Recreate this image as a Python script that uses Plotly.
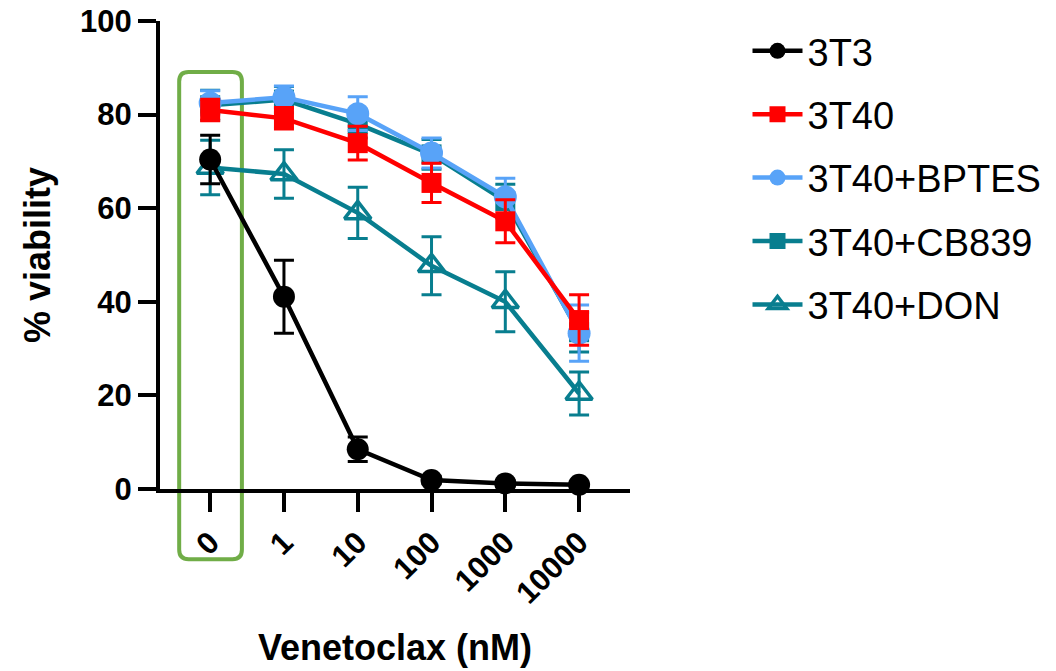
import plotly.graph_objects as go

# ---- data ----
x_pos = [0, 1, 2, 3, 4, 5]
x_labels = ["0", "1", "10", "100", "1000", "10000"]

t3_mean = [70.4, 41.1, 8.5, 1.9, 1.2, 0.9]
t3_sd = [5.2, 7.8, 2.6, 0.8, 0.6, 0.5]

t40_mean = [81.0, 79.2, 73.9, 65.4, 57.2, 36.1]
t40_sd = [2.3, 2.3, 3.6, 4.2, 4.6, 5.4]

bptes_mean = [82.5, 83.7, 80.2, 71.8, 62.4, 33.3]
bptes_sd = [2.6, 2.4, 3.6, 3.2, 4.0, 6.0]

cb839_mean = [82.0, 83.2, 78.0, 71.5, 61.5, 33.5]
cb839_sd = [3.2, 2.8, 3.0, 3.2, 3.6, 4.2]

don_mean = [68.7, 67.3, 59.0, 47.7, 40.0, 20.4]
don_sd = [5.8, 5.2, 5.5, 6.2, 6.4, 4.6]

BLACK = "#000000"
RED = "#FF0000"
BLUE = "#58A3F8"
TEAL = "#087E8F"
GREEN = "#70AD47"

FONT = "Arial, Liberation Sans, Helvetica, sans-serif"

fig = go.Figure()

def add(name, y, sd, color, symbol, size, rank, mline=0):
    fig.add_trace(go.Scatter(
        x=x_pos, y=y, name=name, mode="lines+markers",
        line=dict(color=color, width=4.5),
        marker=dict(color=color, symbol=symbol, size=size,
                    line=dict(color=color, width=mline)),
        error_y=dict(type="data", array=sd, visible=True, color=color,
                     thickness=3, width=10),
        legendrank=rank, legendgroup=name, cliponaxis=False,
    ))

# drawing order: bottom to top
add("3T40+DON", don_mean, don_sd, TEAL, "triangle-up-open", 23, 5, 3.5)
add("3T40+CB839", cb839_mean, cb839_sd, TEAL, "square", 20, 4)
add("3T40+BPTES", bptes_mean, bptes_sd, BLUE, "circle", 23, 3)
add("3T40", t40_mean, t40_sd, RED, "square", 20, 2)
add("3T3", t3_mean, t3_sd, BLACK, "circle", 22, 1)

x_range = [-0.68, 5.69]

def xpaper(v):
    return (v - x_range[0]) / (x_range[1] - x_range[0])

# green rounded highlight box around the "0" category (paper coords)
x0, x1 = xpaper(-0.42), xpaper(0.43)
y0, y1 = -0.15, 0.891
rx, ry = 0.02, 0.02 * 470 / 468
path = (f"M{x0+rx},{y1} L{x1-rx},{y1} Q{x1},{y1} {x1},{y1-ry} "
        f"L{x1},{y0+ry} Q{x1},{y0} {x1-rx},{y0} "
        f"L{x0+rx},{y0} Q{x0},{y0} {x0},{y0+ry} "
        f"L{x0},{y1-ry} Q{x0},{y1} {x0+rx},{y1} Z")
fig.add_shape(type="path", path=path, xref="paper", yref="paper",
              line=dict(color=GREEN, width=4), layer="below")

fig.update_layout(
    width=1056, height=671,
    margin=dict(l=160, r=426, t=21, b=182, autoexpand=False),
    paper_bgcolor="white", plot_bgcolor="white",
    font=dict(family=FONT, color="black"),
    showlegend=True,
    legend=dict(x=1.25, y=1.003, xanchor="left", yanchor="top",
                font=dict(size=38, family=FONT), tracegroupgap=11,
                itemwidth=50, bgcolor="rgba(0,0,0,0)"),
    xaxis=dict(range=x_range, tickvals=x_pos, ticktext=x_labels,
               tickangle=-45, showgrid=False, zeroline=False,
               showline=True, linecolor="black", linewidth=4,
               ticks="outside", ticklen=19, tickwidth=4, tickcolor="black",
               automargin=False, ticklabeloverflow="allow",
               tickfont=dict(size=31, weight="bold", family=FONT),
               title=dict(text="Venetoclax (nM)", standoff=26,
                          font=dict(size=36, weight="bold", family=FONT))),
    yaxis=dict(range=[0, 100], tickvals=[0, 20, 40, 60, 80, 100],
               showgrid=False, zeroline=False,
               showline=True, linecolor="black", linewidth=4,
               ticks="outside", ticklen=18, tickwidth=4, tickcolor="black",
               automargin=False, ticklabeloverflow="allow",
               tickfont=dict(size=31, weight="bold", family=FONT),
               title=dict(text="% viability", standoff=19,
                          font=dict(size=36, weight="bold", family=FONT))),
)

fig.write_html("out.html", config={"displayModeBar": False},
               post_script="document.body.style.margin='0';")
